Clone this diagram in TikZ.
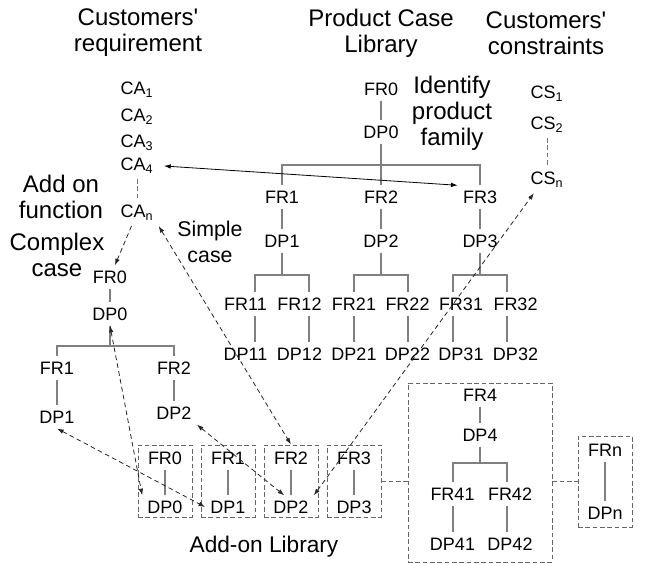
\documentclass[tikz,border=0pt]{standalone}
\usepackage{fontspec}
\setmainfont{Liberation Sans}
\usetikzlibrary{arrows.meta}
\begin{document}
\begin{tikzpicture}[x=0.75pt,y=-0.75pt,
  lbl/.style={font=\fontsize{13.5}{15}\selectfont, inner sep=4pt, outer sep=0pt},
  big/.style={font=\fontsize{18}{19.5}\selectfont, align=center, inner sep=0pt},
  tl/.style={draw=black!50, line width=0.8pt},
  dbox/.style={draw=black!60, line width=0.7pt, dash pattern=on 3.5pt off 2pt, inner sep=0pt},
  dl/.style={draw=black!55, line width=0.7pt, dash pattern=on 3.5pt off 2pt},
  tip/.tip={Latex[length=5pt,width=3.4pt]},
  darr/.style={draw=black!85, line width=0.6pt, dash pattern=on 3.5pt off 2.5pt, tip-tip},
  sarr/.style={draw=black, line width=0.6pt, tip-tip},
]
\useasboundingbox (0,0) rectangle (648,563);

% titles
\node[big] (t1) at (138,33) {Customers\textquotesingle\\requirement};
\node[big] (t2) at (381,33) {Product Case\\Library};
\node[big] (t3) at (546,33) {Customers\textquotesingle\\constraints};
\node[big] (ident) at (452,113) {Identify\\product\\family};
\node[big] (addon) at (61,197) {Add on\\function};
\node[big] (cmplx) at (57,255) {Complex\\case};
\node[big, font=\fontsize{16}{19}\selectfont] (simple) at (210,242) {Simple\\case};
\node[big, font=\fontsize{17}{19}\selectfont] (alib) at (264,547) {Add-on Library};

% customers' requirement
\node[lbl] (ca1) at (137,90) {CA\textsubscript{1}};
\node[lbl] (ca2) at (137,117) {CA\textsubscript{2}};
\node[lbl] (ca3) at (137,143) {CA\textsubscript{3}};
\node[lbl] (ca4) at (137,166) {CA\textsubscript{4}};
\node[lbl] (can) at (137,213) {CA\textsubscript{n}};
\draw[dl] (ca4) -- (can);

% customers' constraints
\node[lbl] (cs1) at (547,94) {CS\textsubscript{1}};
\node[lbl] (cs2) at (547,125) {CS\textsubscript{2}};
\node[lbl] (csn) at (547,180) {CS\textsubscript{n}};
\draw[dl] (cs2) -- (csn);

% product case library tree
\node[lbl] (pFR0) at (381,89) {FR0};
\node[lbl] (pDP0) at (381,132) {DP0};
\coordinate (b0) at (381,165);
\node[lbl] (pFR1) at (282,197) {FR1};
\node[lbl] (pFR2) at (381,197) {FR2};
\node[lbl] (pFR3) at (480,197) {FR3};
\node[lbl] (pDP1) at (282,241) {DP1};
\node[lbl] (pDP2) at (381,241) {DP2};
\node[lbl] (pDP3) at (480,241) {DP3};
\coordinate (b1) at (282,275);
\coordinate (b2) at (381,275);
\coordinate (b3) at (480,275);
\coordinate (b1l) at (255,275);
\coordinate (b1r) at (309,275);
\coordinate (b2l) at (354,275);
\coordinate (b2r) at (408,275);
\coordinate (b3l) at (453,275);
\coordinate (b3r) at (507,275);
\node[lbl] (pFR11) at (245.5,304) {FR11};
\node[lbl] (pFR12) at (299.5,304) {FR12};
\node[lbl] (pFR21) at (354,304) {FR21};
\node[lbl] (pFR22) at (407.5,304) {FR22};
\node[lbl] (pFR31) at (461,304) {FR31};
\node[lbl] (pFR32) at (515.5,304) {FR32};
\node[lbl] (pDP11) at (245.5,354) {DP11};
\node[lbl] (pDP12) at (299.5,354) {DP12};
\node[lbl] (pDP21) at (354,354) {DP21};
\node[lbl] (pDP22) at (407.5,354) {DP22};
\node[lbl] (pDP31) at (461,354) {DP31};
\node[lbl] (pDP32) at (515.5,354) {DP32};

\draw[tl] (pFR0) -- (pDP0);
\draw[tl] (pDP0) -- (pFR2);
\draw[tl] (pFR1.north) |- (b0) -| (pFR3.north);
\draw[tl] (pFR1) -- (pDP1);
\draw[tl] (pFR2) -- (pDP2);
\draw[tl] (pFR3) -- (pDP3);
\draw[tl] (pDP1) -- (b1);
\draw[tl] (pDP2) -- (b2);
\draw[tl] (pDP3) -- (b3);
\draw[tl] (pFR11.north -| b1l) -- (b1l) -- (b1r) -- (pFR12.north -| b1r);
\draw[tl] (pFR21.north -| b2l) -- (b2l) -- (b2r) -- (pFR22.north -| b2r);
\draw[tl] (pFR31.north -| b3l) -- (b3l) -- (b3r) -- (pFR32.north -| b3r);
\draw[tl] (pFR11.south -| b1l) -- (pDP11.north -| b1l);
\draw[tl] (pFR12.south -| b1r) -- (pDP12.north -| b1r);
\draw[tl] (pFR21.south -| b2l) -- (pDP21.north -| b2l);
\draw[tl] (pFR22.south -| b2r) -- (pDP22.north -| b2r);
\draw[tl] (pFR31.south -| b3l) -- (pDP31.north -| b3l);
\draw[tl] (pFR32.south -| b3r) -- (pDP32.north -| b3r);

% complex case tree
\node[lbl] (cFR0) at (110,277) {FR0};
\node[lbl] (cDP0) at (110,314) {DP0};
\coordinate (cb) at (110,346);
\node[lbl] (cFR1) at (57,368) {FR1};
\node[lbl] (cFR2) at (174,368) {FR2};
\node[lbl] (cDP1) at (57,417) {DP1};
\node[lbl] (cDP2) at (174,413) {DP2};
\draw[tl] (cFR0) -- (cDP0);
\draw[tl] (cDP0) -- (cb);
\draw[tl] (cFR1.north) |- (cb) -| (cFR2.north);
\draw[tl] (cFR1) -- (cDP1);
\draw[tl] (cFR2) -- (cDP2);

% add-on library
\node[dbox, minimum width=40.5pt, minimum height=54pt] (box1) at (165,481) {};
\node[dbox, minimum width=40.5pt, minimum height=54pt] (box2) at (228,481) {};
\node[dbox, minimum width=40.5pt, minimum height=54pt] (box3) at (291,481) {};
\node[dbox, minimum width=40.5pt, minimum height=54pt] (box4) at (354,481) {};
\node[dbox, minimum width=108pt, minimum height=134.25pt] (bigbox) at (480,472.5) {};
\node[dbox, minimum width=40.5pt, minimum height=68.25pt] (fbox) at (605,481.5) {};

\node[lbl] (aFR0) at (165,458) {FR0};
\node[lbl] (aDP0) at (165,507) {DP0};
\node[lbl] (aFR1) at (228,458) {FR1};
\node[lbl] (aDP1) at (228,507) {DP1};
\node[lbl] (aFR2) at (291,458) {FR2};
\node[lbl] (aDP2) at (291,507) {DP2};
\node[lbl] (aFR3) at (354,458) {FR3};
\node[lbl] (aDP3) at (354,507) {DP3};
\draw[tl] (aFR0) -- (aDP0);
\draw[tl] (aFR1) -- (aDP1);
\draw[tl] (aFR2) -- (aDP2);
\draw[tl] (aFR3) -- (aDP3);

\node[lbl] (FR4) at (480,395) {FR4};
\node[lbl] (DP4) at (480,435) {DP4};
\coordinate (bb) at (480,463);
\coordinate (bbl) at (453,463);
\coordinate (bbr) at (507,463);
\node[lbl] (FR41) at (452.5,494) {FR41};
\node[lbl] (FR42) at (510,494) {FR42};
\node[lbl] (DP41) at (452.5,544) {DP41};
\node[lbl] (DP42) at (510,544) {DP42};
\draw[tl] (FR4) -- (DP4);
\draw[tl] (DP4) -- (bb);
\draw[tl] (FR41.north -| bbl) -- (bbl) -- (bbr) -- (FR42.north -| bbr);
\draw[tl] (FR41.south -| bbl) -- (DP41.north -| bbl);
\draw[tl] (FR42.south -| bbr) -- (DP42.north -| bbr);

\node[lbl] (FRn) at (605,450) {FRn};
\node[lbl] (DPn) at (605,513) {DPn};
\draw[tl] (FRn) -- (DPn);

\draw[dbox] (box4.east) -- (box4.east -| bigbox.west);
\draw[dbox] (bigbox.east |- fbox.west) -- (fbox.west);

% arrows
\draw[sarr] ([xshift=4pt]ca4.east) -- (pFR3.north west);
\draw[darr, -tip] (can) -- (cFR0);
\draw[darr] (can.south east) -- (box3.north);
\draw[darr] (cDP0.south) -- (aDP0.north west);
\draw[darr] (cDP1.south) -- (aDP1.west);
\draw[darr] (cDP2.south east) -- (aDP2.120);
\draw[darr] (aDP2.north east) -- (csn.225);
\end{tikzpicture}
\end{document}
